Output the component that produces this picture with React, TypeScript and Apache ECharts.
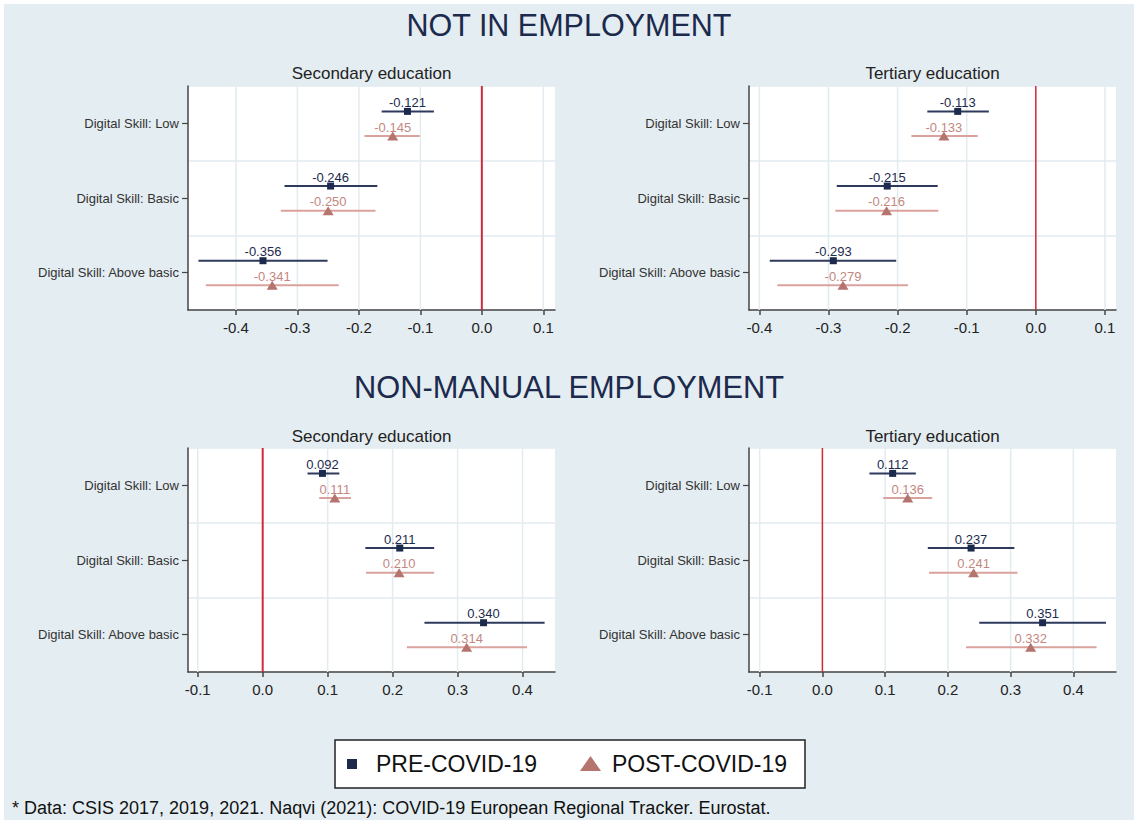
import React, { useEffect, useRef } from "react";
import * as echarts from "echarts";

// Estimated effects with 95% confidence intervals, by digital skill level
const skills = ["Digital Skill: Low", "Digital Skill: Basic", "Digital Skill: Above basic"];

// Not in employment — secondary education
const neSecPre = [-0.121, -0.246, -0.356];
const neSecPreLo = [-0.163, -0.321, -0.461];
const neSecPreHi = [-0.078, -0.17, -0.251];
const neSecPost = [-0.145, -0.25, -0.341];
const neSecPostLo = [-0.191, -0.327, -0.449];
const neSecPostHi = [-0.101, -0.173, -0.233];

// Not in employment — tertiary education
const neTerPre = [-0.113, -0.215, -0.293];
const neTerPreLo = [-0.157, -0.288, -0.385];
const neTerPreHi = [-0.068, -0.142, -0.202];
const neTerPost = [-0.133, -0.216, -0.279];
const neTerPostLo = [-0.18, -0.29, -0.374];
const neTerPostHi = [-0.084, -0.141, -0.185];

// Non-manual employment — secondary education
const nmSecPre = [0.092, 0.211, 0.34];
const nmSecPreLo = [0.069, 0.158, 0.249];
const nmSecPreHi = [0.118, 0.264, 0.434];
const nmSecPost = [0.111, 0.21, 0.314];
const nmSecPostLo = [0.087, 0.159, 0.222];
const nmSecPostHi = [0.136, 0.264, 0.407];

// Non-manual employment — tertiary education
const nmTerPre = [0.112, 0.237, 0.351];
const nmTerPreLo = [0.075, 0.168, 0.25];
const nmTerPreHi = [0.149, 0.306, 0.452];
const nmTerPost = [0.136, 0.241, 0.332];
const nmTerPostLo = [0.097, 0.17, 0.229];
const nmTerPostHi = [0.175, 0.311, 0.437];

const negTicks = [-0.4, -0.3, -0.2, -0.1, 0, 0.1];
const posTicks = [-0.1, 0, 0.1, 0.2, 0.3, 0.4];

const FONT = '"Liberation Sans", Arial, Helvetica, sans-serif';
const OFF = 4; // white frame around the chart
const BG = "#e4edf1";
const PRE_COLOR = "#1c2a4d";
const PRE_LINE = "#2e3a5c";
const POST_COLOR = "#b5746e";
const POST_LINE = "#d9a29c";
const POST_LABEL = "#c4877f";
const ZERO_COLOR = "#cf2a3b";
const GRID_LINE = "#e2ebf0";
const AXIS = "#454545";

const PLOT_W = 367;
const PLOT_H = 224;
const PRE_SHIFT = -0.16;
const POST_SHIFT = 0.17;

type Panel = {
  left: number;
  top: number;
  min: number;
  max: number;
  ticks: number[];
  zeroWidth: number;
  pre: number[];
  preLo: number[];
  preHi: number[];
  post: number[];
  postLo: number[];
  postHi: number[];
};

const panels: Panel[] = [
  { left: 188, top: 86, min: -0.478, max: 0.119, ticks: negTicks, zeroWidth: 2,
    pre: neSecPre, preLo: neSecPreLo, preHi: neSecPreHi, post: neSecPost, postLo: neSecPostLo, postHi: neSecPostHi },
  { left: 749, top: 86, min: -0.415, max: 0.116, ticks: negTicks, zeroWidth: 1.5,
    pre: neTerPre, preLo: neTerPreLo, preHi: neTerPreHi, post: neTerPost, postLo: neTerPostLo, postHi: neTerPostHi },
  { left: 188, top: 448, min: -0.115, max: 0.45, ticks: posTicks, zeroWidth: 2,
    pre: nmSecPre, preLo: nmSecPreLo, preHi: nmSecPreHi, post: nmSecPost, postLo: nmSecPostLo, postHi: nmSecPostHi },
  { left: 749, top: 448, min: -0.117, max: 0.468, ticks: posTicks, zeroWidth: 1.5,
    pre: nmTerPre, preLo: nmTerPreLo, preHi: nmTerPreHi, post: nmTerPost, postLo: nmTerPostLo, postHi: nmTerPostHi },
];

function vLineSeries(idx: number, values: number[], color: string, width: number, z: number) {
  return {
    type: "custom",
    silent: true,
    xAxisIndex: idx,
    yAxisIndex: idx * 2 + 1,
    z,
    data: values.map((v) => [v, 0, 3]),
    encode: { x: 0, y: [1, 2] },
    renderItem: (_p: any, api: any) => {
      const a = api.coord([api.value(0), 0]);
      const b = api.coord([api.value(0), 3]);
      return {
        type: "line",
        shape: { x1: a[0], y1: a[1], x2: b[0], y2: b[1] },
        style: { stroke: color, lineWidth: width },
      };
    },
  };
}

function ciSeries(idx: number, lo: number[], hi: number[], shift: number, color: string) {
  return {
    type: "custom",
    silent: true,
    xAxisIndex: idx,
    yAxisIndex: idx * 2 + 1,
    z: 3,
    data: lo.map((l, i) => [l, hi[i], i + 0.5 + shift]),
    encode: { x: [0, 1], y: 2 },
    renderItem: (_p: any, api: any) => {
      const y = api.value(2);
      const a = api.coord([api.value(0), y]);
      const b = api.coord([api.value(1), y]);
      return {
        type: "line",
        shape: { x1: a[0], y1: a[1], x2: b[0], y2: b[1] },
        style: { stroke: color, lineWidth: 2 },
      };
    },
  };
}

function pointSeries(idx: number, name: string, vals: number[], shift: number, symbol: string,
  size: number | number[], color: string, labelColor: string) {
  return {
    type: "scatter",
    name,
    xAxisIndex: idx,
    yAxisIndex: idx * 2 + 1,
    z: 4,
    symbol,
    symbolSize: size,
    itemStyle: { color, opacity: 1 },
    data: vals.map((v, i) => [v, i + 0.5 + shift]),
    label: {
      show: true,
      position: "inside",
      offset: [0, -9],
      formatter: (p: any) => Number(p.value[0]).toFixed(3),
      color: labelColor,
      fontSize: 13,
      fontFamily: FONT,
    },
  };
}

function buildOption() {
  const grid: any[] = [];
  const xAxis: any[] = [];
  const yAxis: any[] = [];
  const series: any[] = [];

  panels.forEach((p, idx) => {
    grid.push({
      left: p.left - OFF,
      top: p.top - OFF,
      width: PLOT_W,
      height: PLOT_H,
      show: true,
      backgroundColor: "#ffffff",
      borderWidth: 0,
    });
    xAxis.push({
      type: "value",
      gridIndex: idx,
      min: p.min,
      max: p.max,
      axisLine: { show: true, onZero: false, lineStyle: { color: AXIS, width: 1.5 } },
      axisTick: { show: true, length: 5, customValues: p.ticks, lineStyle: { color: AXIS, width: 1.5 } },
      axisLabel: {
        customValues: p.ticks,
        formatter: (v: number) => Number(v).toFixed(1),
        fontSize: 15,
        color: "#222",
        margin: 10,
        fontFamily: FONT,
      },
      splitLine: { show: false },
    });
    yAxis.push({
      type: "category",
      gridIndex: idx,
      data: skills,
      inverse: true,
      boundaryGap: true,
      axisLine: { show: true, onZero: false, lineStyle: { color: AXIS, width: 1.5 } },
      axisTick: { show: true, alignWithLabel: true, length: 6, lineStyle: { color: AXIS, width: 1.2 } },
      axisLabel: { fontSize: 13, color: "#333", margin: 9, fontFamily: FONT },
      splitLine: { show: true, lineStyle: { color: GRID_LINE, width: 1.5 } },
    });
    yAxis.push({
      type: "value",
      gridIndex: idx,
      min: 0,
      max: 3,
      inverse: true,
      show: false,
    });

    series.push(vLineSeries(idx, p.ticks.filter((t) => t !== 0), GRID_LINE, 1.5, 1));
    series.push(vLineSeries(idx, [0], ZERO_COLOR, p.zeroWidth, 2));
    series.push(ciSeries(idx, p.preLo, p.preHi, PRE_SHIFT, PRE_LINE));
    series.push(ciSeries(idx, p.postLo, p.postHi, POST_SHIFT, POST_LINE));
    series.push(pointSeries(idx, "PRE-COVID-19", p.pre, PRE_SHIFT, "rect", 7, PRE_COLOR, PRE_COLOR));
    series.push(pointSeries(idx, "POST-COVID-19", p.post, POST_SHIFT, "triangle", [11, 9], POST_COLOR, POST_LABEL));
  });

  const text = (x: number, y: number, s: string, size: number, fill: string, align = "center") => ({
    type: "text",
    x: x - OFF,
    y: y - OFF,
    silent: true,
    style: {
      text: s,
      font: `${size}px ${FONT}`,
      fill,
      textAlign: align,
      textVerticalAlign: "middle",
    },
  });

  const graphic: any[] = [
    text(569, 25, "NOT IN EMPLOYMENT", 30.5, PRE_COLOR),
    text(569, 387, "NON-MANUAL EMPLOYMENT", 30.8, PRE_COLOR),
    text(371.5, 73, "Secondary education", 17, "#222"),
    text(932.5, 73, "Tertiary education", 17, "#222"),
    text(371.5, 436, "Secondary education", 17, "#222"),
    text(932.5, 436, "Tertiary education", 17, "#222"),
    {
      type: "rect",
      silent: true,
      shape: { x: 335 - OFF, y: 740 - OFF, width: 470, height: 48 },
      style: { fill: "#ffffff", stroke: "#222", lineWidth: 1.5 },
    },
    {
      type: "rect",
      silent: true,
      shape: { x: 347 - OFF, y: 759 - OFF, width: 10, height: 10 },
      style: { fill: PRE_COLOR },
    },
    text(376, 764, "PRE-COVID-19", 23, "#111", "left"),
    {
      type: "polygon",
      silent: true,
      shape: { points: [[580 - OFF, 771 - OFF], [601 - OFF, 771 - OFF], [590.5 - OFF, 756 - OFF]] },
      style: { fill: POST_COLOR },
    },
    text(612, 764, "POST-COVID-19", 23, "#111", "left"),
    text(12, 808, "* Data: CSIS 2017, 2019, 2021. Naqvi (2021): COVID-19 European Regional Tracker. Eurostat.", 18, "#111", "left"),
  ];

  return {
    animation: false,
    backgroundColor: BG,
    textStyle: { fontFamily: FONT },
    grid,
    xAxis,
    yAxis,
    series,
    graphic,
  };
}

export default function App() {
  const ref = useRef<HTMLDivElement>(null);
  useEffect(() => {
    if (!ref.current) return;
    const chart = echarts.init(ref.current, undefined, { renderer: "svg" });
    chart.setOption(buildOption() as any);
    return () => chart.dispose();
  }, []);
  return (
    <div style={{ position: "fixed", left: 0, top: 0, width: 1138, height: 824, background: "#ffffff" }}>
      <div
        ref={ref}
        style={{ position: "absolute", left: OFF, top: OFF, width: 1138 - 2 * OFF, height: 824 - 2 * OFF }}
      />
    </div>
  );
}
